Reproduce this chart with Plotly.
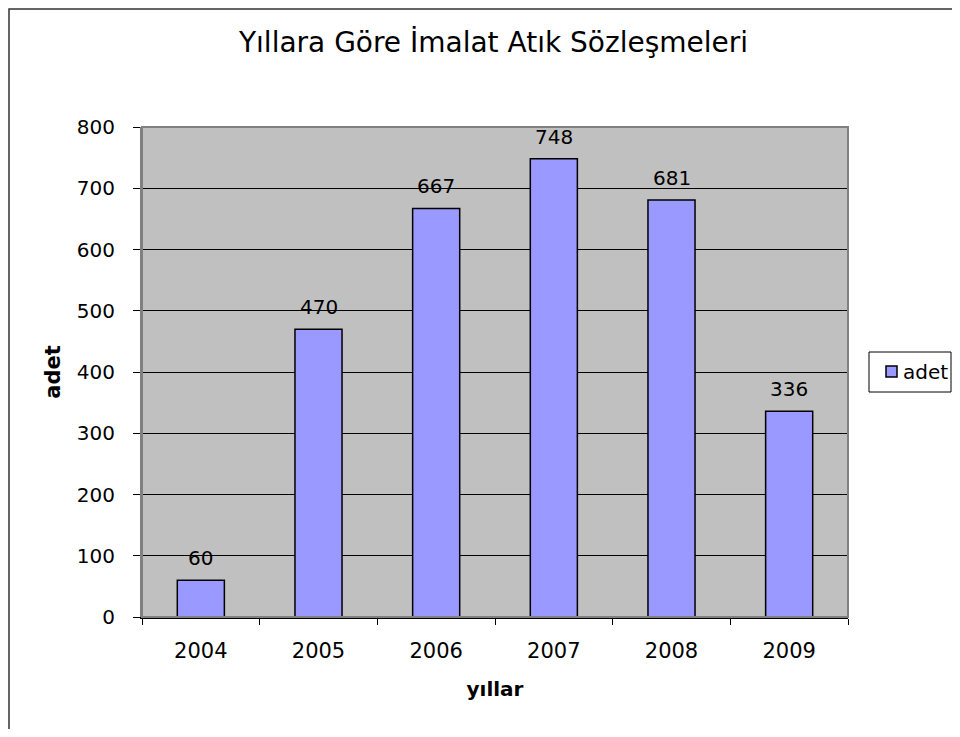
import plotly.graph_objects as go

years = ["2004", "2005", "2006", "2007", "2008", "2009"]
adet = [60, 470, 667, 748, 681, 336]
yticks = [0, 100, 200, 300, 400, 500, 600, 700, 800]
series_name = "adet"

FONT = "DejaVu Sans, Verdana, sans-serif"
BAR_COLOR = "#9999ff"
# page body has an 8px margin; figure coordinates are page coordinates minus 8
OFF = 8
W, H = 944, 721
L, R, T, B = 142 - OFF, 848 - OFF, 127 - OFF, 617 - OFF
pw, ph = R - L, B - T


def px(x):
    """page x pixel -> paper fraction"""
    return (x - OFF - L) / pw


def py(y):
    """page y pixel -> paper fraction"""
    return (B - (y - OFF)) / ph


fig = go.Figure()
fig.add_trace(go.Bar(
    x=years, y=adet, name=series_name,
    marker=dict(color=BAR_COLOR, line=dict(color="black", width=1.5)),
    width=0.4,
    showlegend=False,
))

# value labels (category axis: numeric x means category index)
for i, v in enumerate(adet):
    fig.add_annotation(x=i, y=v, xref="x", yref="y", text=str(v), showarrow=False,
                       yanchor="bottom", yshift=8,
                       font=dict(size=20, color="black", family=FONT))

fig.update_layout(
    width=W, height=H,
    margin=dict(l=L, r=W - R, t=T, b=H - B, autoexpand=False),
    paper_bgcolor="white",
    plot_bgcolor="#c0c0c0",
    font=dict(family=FONT, size=20, color="black"),
    title=dict(text="Yıllara Göre İmalat Atık Sözleşmeleri", x=(493.5 - OFF) / W, xanchor="center",
               y=1 - (42 - OFF) / H, yanchor="middle", font=dict(size=28)),
    showlegend=False,
    xaxis=dict(type="category", categoryorder="array", categoryarray=years,
               range=[-0.5, len(years) - 0.5],
               title=dict(text="<b>yıllar</b>", font=dict(size=20), standoff=20),
               showline=True, linecolor="black", linewidth=1.5,
               ticks="outside", ticklen=6, tickcolor="black", tickson="boundaries",
               ticklabelstandoff=14, tickfont=dict(size=21), tickangle=0,
               showgrid=False, mirror=False),
    yaxis=dict(title=dict(text="<b>adet</b>", font=dict(size=21), standoff=10),
               range=[0, 800], tickvals=yticks, ticks="outside", ticklen=7, tickcolor="black",
               ticklabelstandoff=14, tickfont=dict(size=20),
               showgrid=True, gridcolor="black", gridwidth=1,
               showline=True, linecolor="#808080", linewidth=2, zeroline=False),
)

# plot-area border (gray)
fig.add_shape(type="rect", xref="paper", yref="paper", x0=0, x1=1, y0=0, y1=1,
              line=dict(color="#808080", width=2), layer="above")
# outer chart border (top and left visible)
fig.add_shape(type="rect", xref="paper", yref="paper", x0=px(9), x1=px(1100), y0=py(900), y1=py(9),
              line=dict(color="#333333", width=1.5))

# legend box
fig.add_shape(type="rect", xref="paper", yref="paper", x0=px(869), x1=px(951), y0=py(392), y1=py(352),
              line=dict(color="black", width=1), fillcolor="white")
fig.add_shape(type="rect", xref="paper", yref="paper", x0=px(886), x1=px(897), y0=py(377), y1=py(366),
              line=dict(color="black", width=1.5), fillcolor=BAR_COLOR)
fig.add_annotation(xref="paper", yref="paper", x=px(901), y=py(372), xanchor="left", yanchor="middle",
                   text=series_name, showarrow=False, font=dict(size=20, color="black", family=FONT))

fig.write_html("out.html")
